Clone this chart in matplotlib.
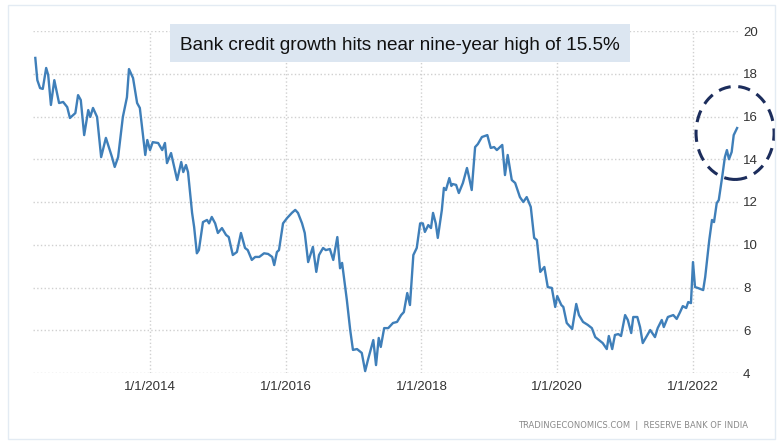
import matplotlib
matplotlib.use("Agg")
import matplotlib.pyplot as plt
from matplotlib.patches import Ellipse, Rectangle

# ==============================
# Data
# ==============================
years = [
    2012.31, 2012.34, 2012.38, 2012.42, 2012.47, 2012.50, 2012.54, 2012.59, 2012.63, 2012.66,
    2012.72, 2012.78, 2012.82, 2012.90, 2012.94, 2012.98, 2013.03, 2013.09, 2013.12, 2013.16,
    2013.22, 2013.28, 2013.35, 2013.44, 2013.48, 2013.53, 2013.60, 2013.66, 2013.69, 2013.75,
    2013.81, 2013.85, 2013.93, 2013.96, 2014.00, 2014.04, 2014.12, 2014.18, 2014.22, 2014.25,
    2014.31, 2014.35, 2014.40, 2014.46, 2014.49, 2014.53, 2014.56, 2014.62, 2014.65, 2014.69,
    2014.72, 2014.78, 2014.84, 2014.87, 2014.91, 2014.96, 2015.00, 2015.06, 2015.12, 2015.16,
    2015.22, 2015.28, 2015.34, 2015.40, 2015.44, 2015.50, 2015.55, 2015.61, 2015.68, 2015.74,
    2015.80, 2015.83, 2015.87, 2015.90, 2015.96, 2016.02, 2016.09, 2016.14, 2016.18, 2016.24,
    2016.28, 2016.33, 2016.40, 2016.45, 2016.49, 2016.55, 2016.59, 2016.65, 2016.70, 2016.76,
    2016.80, 2016.83, 2016.90, 2016.95, 2016.99, 2017.05, 2017.12, 2017.17, 2017.21, 2017.29,
    2017.33, 2017.37, 2017.40, 2017.45, 2017.51, 2017.58, 2017.64, 2017.70, 2017.74, 2017.79,
    2017.83, 2017.88, 2017.93, 2017.98, 2018.02, 2018.05, 2018.10, 2018.14, 2018.17, 2018.21,
    2018.24, 2018.30, 2018.33, 2018.36, 2018.41, 2018.44, 2018.46, 2018.51, 2018.55, 2018.61,
    2018.67, 2018.70, 2018.74, 2018.79, 2018.83, 2018.89, 2018.97, 2019.02, 2019.07, 2019.11,
    2019.19, 2019.23, 2019.27, 2019.33, 2019.38, 2019.45, 2019.50, 2019.55, 2019.61, 2019.66,
    2019.70, 2019.75, 2019.81, 2019.86, 2019.92, 2019.97, 2020.00, 2020.06, 2020.09, 2020.14,
    2020.22, 2020.28, 2020.32, 2020.38, 2020.45, 2020.51, 2020.56, 2020.63, 2020.67, 2020.73,
    2020.76, 2020.81, 2020.85, 2020.90, 2020.94, 2021.00, 2021.04, 2021.09, 2021.12, 2021.18,
    2021.22, 2021.26, 2021.31, 2021.37, 2021.44, 2021.48, 2021.54, 2021.57, 2021.63, 2021.71,
    2021.76, 2021.81, 2021.85, 2021.90, 2021.93, 2021.97, 2022.00, 2022.03, 2022.07, 2022.15,
    2022.18, 2022.24, 2022.28, 2022.31, 2022.35, 2022.38, 2022.43, 2022.47, 2022.50, 2022.53,
    2022.57, 2022.60, 2022.65,
]
credit_growth = [
    18.74, 17.70, 17.33, 17.29, 18.27, 17.94, 16.54, 17.70, 17.10, 16.63,
    16.68, 16.44, 15.93, 16.16, 17.00, 16.77, 15.13, 16.30, 15.98, 16.40,
    15.98, 14.10, 15.00, 14.10, 13.64, 14.10, 15.98, 16.90, 18.22, 17.80,
    16.63, 16.40, 14.20, 14.90, 14.43, 14.80, 14.76, 14.43, 14.76, 13.82,
    14.29, 13.73, 13.03, 13.87, 13.40, 13.73, 13.40, 11.49, 10.83, 9.60,
    9.75, 11.06, 11.16, 11.00, 11.30, 11.00, 10.55, 10.78, 10.46, 10.36,
    9.52, 9.66, 10.55, 9.85, 9.75, 9.29, 9.43, 9.43, 9.60, 9.57,
    9.43, 9.05, 9.66, 9.75, 11.00, 11.25, 11.49, 11.63, 11.49, 11.00,
    10.55, 9.19, 9.90, 8.73, 9.52, 9.85, 9.75, 9.80, 9.29, 10.36,
    8.90, 9.15, 7.42, 6.00, 5.08, 5.12, 4.94, 4.09, 4.60, 5.54,
    4.37, 5.64, 5.22, 6.10, 6.10, 6.34, 6.39, 6.71, 6.85, 7.74,
    7.18, 9.52, 9.85, 11.00, 11.00, 10.60, 10.92, 10.78, 11.49, 11.00,
    10.32, 11.63, 12.66, 12.56, 13.12, 12.75, 12.84, 12.80, 12.42, 12.89,
    13.59, 13.17, 12.56, 14.57, 14.71, 15.04, 15.13, 14.53, 14.57, 14.43,
    14.67, 13.26, 14.20, 13.03, 12.89, 12.23, 12.00, 12.23, 11.77, 10.32,
    10.22, 8.73, 8.96, 8.02, 7.98, 7.09, 7.60, 7.18, 7.09, 6.34,
    6.06, 7.23, 6.71, 6.39, 6.25, 6.10, 5.68, 5.50, 5.40, 5.12,
    5.73, 5.12, 5.78, 5.82, 5.73, 6.71, 6.48, 5.87, 6.62, 6.62,
    6.15, 5.40, 5.68, 6.01, 5.68, 6.10, 6.48, 6.15, 6.62, 6.71,
    6.53, 6.85, 7.13, 7.04, 7.32, 7.27, 9.19, 8.02, 7.98, 7.88,
    8.49, 10.22, 11.16, 11.06, 11.95, 12.09, 13.17, 14.10, 14.43, 14.00,
    14.34, 15.13, 15.46,
]

tick_years = [2014, 2016, 2018, 2020, 2022]
tick_labels = ['1/1/2014', '1/1/2016', '1/1/2018', '1/1/2020', '1/1/2022']
y_ticks = [4, 6, 8, 10, 12, 14, 16, 18, 20]

title = 'Bank credit growth hits near nine-year high of 15.5%'
source = 'TRADINGECONOMICS.COM  |  RESERVE BANK OF INDIA'

plt.rcParams['font.family'] = ['Liberation Sans', 'DejaVu Sans']

# ==============================
# Figure
# ==============================
fig = plt.figure(figsize=(7.83, 4.45), dpi=100)
ax = fig.add_axes([33 / 783, 1 - 373 / 445, (739 - 33) / 783, (373 - 31) / 445])

ax.plot(years, credit_growth, color='#3f7fb9', linewidth=1.7, solid_joinstyle='round')

ax.set_xlim(2012.276, 2022.678)
ax.set_ylim(4, 20)
ax.set_xticks(tick_years)
ax.set_xticklabels(tick_labels)
ax.set_yticks(y_ticks)
ax.yaxis.tick_right()
ax.tick_params(axis='both', length=0, labelsize=9.5, colors='#333333')
ax.tick_params(axis='y', pad=3)
ax.tick_params(axis='x', pad=6)
ax.grid(True, color='#d0d0d0', linestyle=':', linewidth=1.0)
for s in ax.spines.values():
    s.set_visible(False)

# circle around the latest values
ax.add_patch(Ellipse((2022.62, 15.23), 1.15, 4.35, fill=False, edgecolor='#1c2d5c',
                     linestyle=(0, (4, 2.5)), linewidth=2.2, clip_on=False, zorder=5))

# title box
fig.patches.append(Rectangle((170 / 783, 1 - 62 / 445), 460 / 783, 38 / 445,
                             transform=fig.transFigure, facecolor='#dce6f1',
                             edgecolor='none', zorder=1))
fig.text(400 / 783, 1 - 45 / 445, title, ha='center', va='center', fontsize=13.7,
         color='#111111', zorder=3)

# source text
fig.text(748 / 783, 1 - 426 / 445, source, ha='right', va='center', fontsize=6,
         color='#8a8a8a', family='DejaVu Sans')

# outer border
fig.patches.append(Rectangle((8 / 783, 6 / 445), 767 / 783, 434 / 445,
                             transform=fig.transFigure, fill=False,
                             edgecolor='#e3ebf3', linewidth=1.0, zorder=0))

plt.savefig('out.png', dpi=100)
